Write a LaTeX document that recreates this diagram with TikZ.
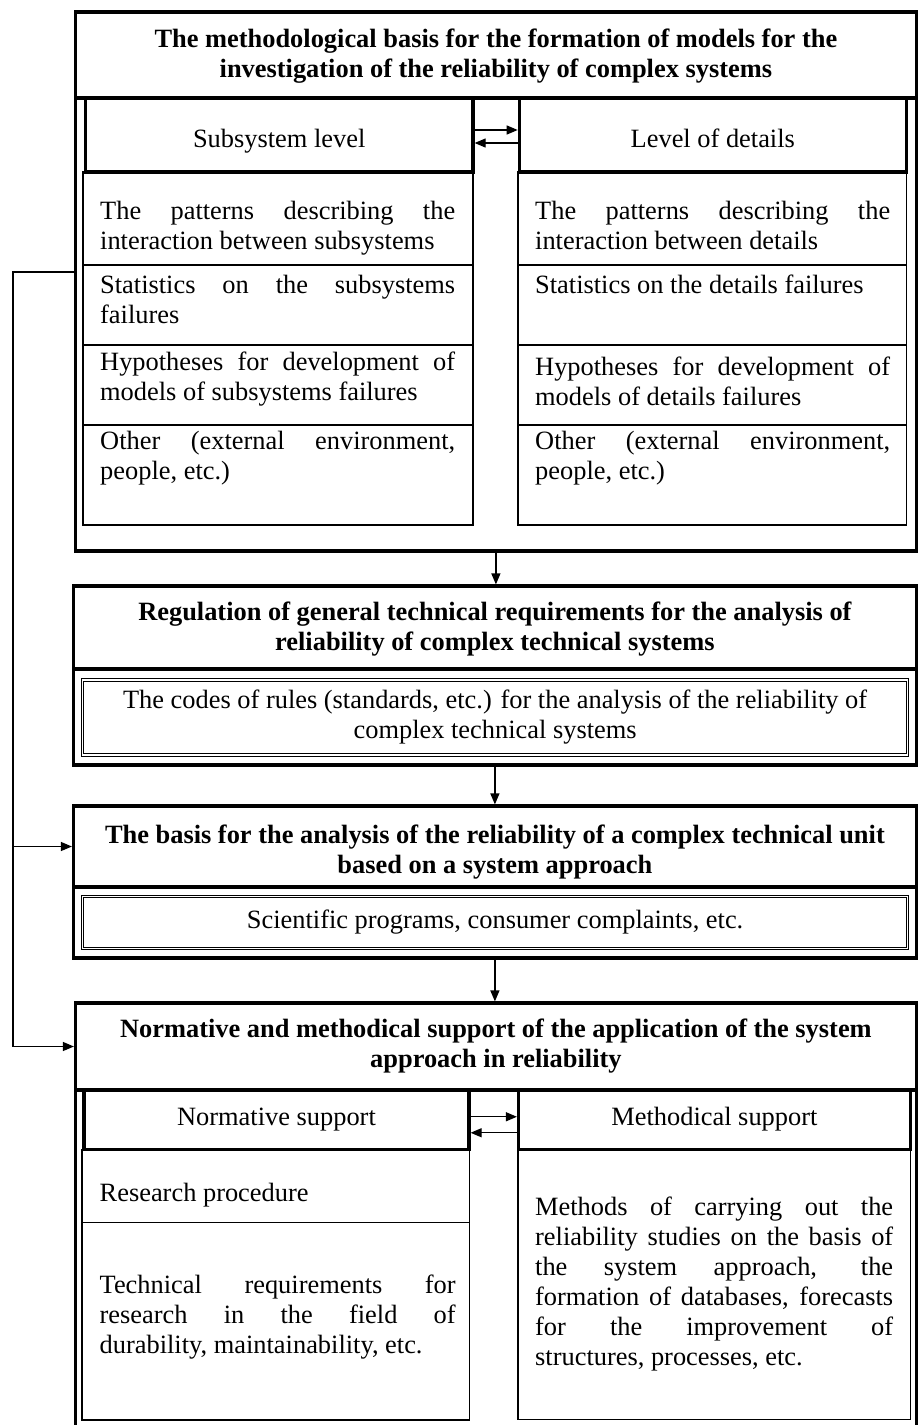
\documentclass[tikz,border=0pt]{standalone}
\usepackage{fontspec}
\setmainfont{Liberation Serif}
\usepackage{tikz}
\usetikzlibrary{arrows.meta}
\usetikzlibrary{positioning}
\setlength{\parindent}{0pt}
\newcommand{\bodysize}{\fontsize{26.4}{30}\selectfont}

\tikzset{
  heavy/.style={line width=3.2pt},
  light/.style={line width=1.2pt},
  arr/.style={light, shorten >=1.6pt, -{Triangle[length=11pt,width=9pt]}},
  boxframe/.style={draw, heavy, inner sep=0pt, outer sep=0pt},
  titletext/.style={font=\bodysize\bfseries, align=center, inner sep=0pt},
  levelbox/.style={draw, line width=3.5pt, inner sep=0pt, outer sep=0pt, font=\bodysize, text height=18pt, text depth=6pt},
  codebox/.style={draw, double, line width=1pt, double distance=1.3pt, inner sep=0pt, font=\bodysize, align=center},
  cell/.style={inner sep=0pt, anchor=north west, text width=355pt, align=justify, font=\bodysize}
}

\begin{document}
\begin{tikzpicture}[x=1pt,y=-1pt]
\useasboundingbox (0,0) rectangle (918,1425);
% first block: methodological basis
\node[boxframe, minimum width=840.8pt, minimum height=539pt] (methbox) at (495.9,281.5) {};
\node[boxframe, minimum width=840.8pt, minimum height=86pt] (meth) at (495.9,55) {};
\node[titletext] (methtext) at ([yshift=-1pt]meth.center) {The methodological basis for the formation of models for the\\investigation of the reliability of complex systems};
% columns of the first block
\draw[light] (83,172) rectangle (473,525);
\draw[light] (518,172) rectangle (906.4,525);
\foreach \y in {265,345,425} {
  \draw[light] (83,\y) -- (473,\y);
  \draw[light] (518,\y) -- (906.4,\y);
}
\node[levelbox, text height=31.5pt, minimum width=387.7pt, minimum height=74pt] (subsys) at (279.2,135) {Subsystem level};
\node[levelbox, text height=31.5pt, minimum width=387pt, minimum height=74pt] (details) at (712.8,135) {Level of details};
% texts of the columns
\node[cell] (s1) at (100,201) {The patterns describing the\linebreak interaction between subsystems};
\node[cell] (s2) at (100,275) {Statistics on the subsystems\linebreak failures};
\node[cell] (s3) at (100,352) {Hypotheses for development of\linebreak models of subsystems failures};
\node[cell] (s4) at (100,431) {Other (external environment,\linebreak people, etc.)};
\node[cell] (d1) at (535,201) {The patterns describing the\linebreak interaction between details};
\node[cell] (d2) at (535,275) {Statistics on the details failures};
\node[cell] (d3) at (535,357) {Hypotheses for development of\linebreak models of details failures};
\node[cell] (d4) at (535,431) {Other (external environment,\linebreak people, etc.)};
\draw[arr] ([yshift=5pt]subsys.east) -- ([yshift=5pt]details.west);
\draw[arr] ([yshift=-8pt]details.west) -- ([yshift=-8pt]subsys.east);

% second block: regulation
\node[boxframe, minimum width=842.8pt, minimum height=179pt] (regbox) at (494.9,675.5) {};
\node[boxframe, minimum width=842.8pt, minimum height=83pt] (reg) at (494.9,627.5) {};
\node[titletext] (regtext) at ([yshift=-2pt]reg.center) {Regulation of general technical requirements for the analysis of\\reliability of complex technical systems};
\node[codebox, minimum width=824.8pt, minimum height=75pt] (codes) at (495.1,717.5) {The codes of rules (standards, etc.) for the analysis of the reliability of\\complex technical systems};

% third block: basis for the analysis
\node[boxframe, minimum width=842.8pt, minimum height=152pt] (basisbox) at (494.9,882) {};
\node[boxframe, minimum width=842.8pt, minimum height=81pt] (basis) at (494.9,846.5) {};
\node[titletext] (basistext) at ([yshift=-5.5pt]basis.center) {The basis for the analysis of the reliability of a complex technical unit\\based on a system approach};
\node[codebox, minimum width=824.8pt, minimum height=52pt] (programs) at (495.1,922.3) {Scientific programs, consumer complaints, etc.};

% fourth block: normative and methodical support
\draw[heavy] (75.5,1425) |- (916.3,1003) -- (916.3,1425);
\node[boxframe, minimum width=840.8pt, minimum height=87pt] (norm) at (495.9,1046.5) {};
\node[titletext] (normtext) at (norm.center) {Normative and methodical support of the application of the system\\approach in reliability};
\draw[light] (82,1149.5) rectangle (469.7,1420);
\draw[light] (82,1222.7) -- (469.7,1222.7);
\draw[light] (518,1149.5) rectangle (910.3,1419.3);
\node[levelbox, minimum width=385pt, minimum height=59.5pt] (normsup) at (276.5,1119.75) {Normative support};
\node[levelbox, minimum width=391.8pt, minimum height=59.5pt] (methsup) at (714.4,1119.75) {Methodical support};
\node[cell] (proc) at (99.5,1183) {Research procedure};
\node[cell, text width=356pt] (techreq) at (99.5,1275) {Technical requirements for\linebreak research in the field of\linebreak durability, maintainability, etc.};
\node[cell, text width=358pt] (methods) at (535,1197) {Methods of carrying out the\linebreak reliability studies on the basis of\linebreak the system approach, the\linebreak formation of databases, forecasts\linebreak for the improvement of\linebreak structures, processes, etc.};
\draw[arr] ([yshift=3pt]normsup.east) -- ([yshift=3pt]methsup.west);
\draw[arr] ([yshift=-13pt]methsup.west) -- ([yshift=-13pt]normsup.east);

% arrows between the blocks
\draw[arr] (methbox.south) -- (methbox.south |- reg.north);
\draw[arr] (regbox.south) -- (regbox.south |- basis.north);
\draw[arr] (basisbox.south) -- (basisbox.south |- norm.north);
% feedback line on the left
\coordinate (fbstart) at (75.5,272);
\coordinate (fbturn) at (13,272);
\draw[arr] (fbstart) -- (fbturn) |- (basis.west);
\draw[arr] (fbturn) |- (norm.west);
\end{tikzpicture}
\end{document}
